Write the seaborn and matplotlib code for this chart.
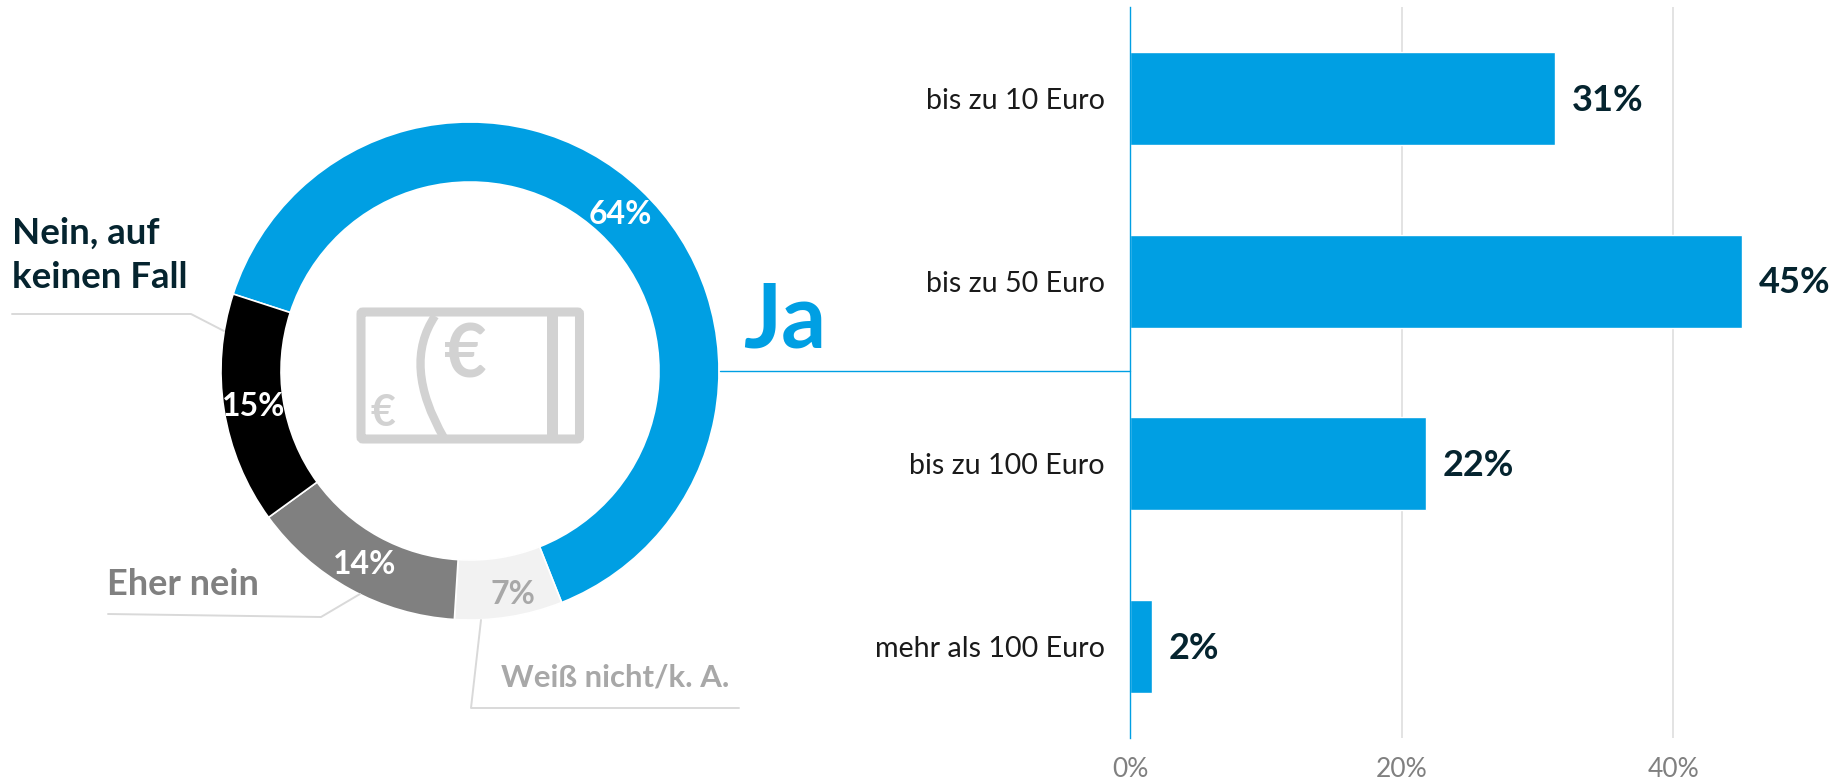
import matplotlib
matplotlib.use("Agg")
import matplotlib.pyplot as plt
from matplotlib.patches import PathPatch, Rectangle, FancyBboxPatch
from matplotlib.path import Path
import pandas as pd
import seaborn as sns

# donut data
answers = ["Ja", "Weiß nicht/k. A.", "Eher nein", "Nein, auf keinen Fall"]
answer_values = [64, 7, 14, 15]
answer_colors = ["#009FE3", "#F2F2F2", "#808080", "#000000"]

# bar data
amounts = ["bis zu 10 Euro", "bis zu 50 Euro", "bis zu 100 Euro", "mehr als 100 Euro"]
amount_values = [31.3, 45.1, 21.8, 1.6]
amount_labels = ["31%", "45%", "22%", "2%"]
x_ticks = [0, 20, 40]
x_tick_labels = ["0%", "20%", "40%"]

BLUE = "#009FE3"
DARK = "#05242F"
W, H = 1845, 781

sns.set_theme(style="white")
plt.rcParams["font.family"] = ["Lato", "DejaVu Sans"]

fig = plt.figure(figsize=(W / 100, H / 100), dpi=100, facecolor="white")


def px_axes(left, top, width, height):
    return fig.add_axes([left / W, 1 - (top + height) / H, width / W, height / H])


# -----------------------------
# Bars
# -----------------------------
ax = px_axes(1130, 7, 715, 731)
df = pd.DataFrame({"amount": amounts, "value": amount_values})
sns.barplot(data=df, x="value", y="amount", color=BLUE, saturation=1, width=0.51, ax=ax, zorder=3)
ax.set_xlim(0, 715 / 13.58)
ax.set_xlabel("")
ax.set_ylabel("")
ax.set_xticks(x_ticks, x_tick_labels)
ax.tick_params(axis="x", length=0, pad=14, labelsize=19, labelcolor="#808080")
ax.tick_params(axis="y", length=0, pad=18, labelsize=20.6, labelcolor="#1A1A1A")
ax.grid(axis="x", color="#E1E1E1", lw=1.3, zorder=0)
ax.set_axisbelow(True)
sns.despine(ax=ax, left=False, bottom=True)
ax.spines["left"].set_color(BLUE)
ax.spines["left"].set_linewidth(1)
ax.spines["left"].set_zorder(5)
bar_texts = ax.bar_label(ax.containers[0], labels=amount_labels, padding=12, fontsize=26,
                         fontweight="bold", color=DARK)
# nudge the value labels down a little
for t in bar_texts:
    t.xyann = (t.xyann[0], t.xyann[1] - 1.2)

# -----------------------------
# Donut
# -----------------------------
ax2 = px_axes(221, 122, 498, 498)
ax2.pie(answer_values, colors=answer_colors, startangle=162, counterclock=False, radius=1,
        wedgeprops=dict(width=0.241, edgecolor="white", linewidth=1.2))
ax2.set_xlim(-1, 1)
ax2.set_ylim(-1, 1)

# -----------------------------
# Overlay in pixels: labels, leaders, banknote
# -----------------------------
ov = fig.add_axes([0, 0, 1, 1], zorder=10)
ov.set_xlim(0, W)
ov.set_ylim(H, 0)
ov.axis("off")
ov.patch.set_alpha(0)

LEADER = "#D9D9D9"
ov.plot([12, 191, 224], [314, 314, 331], color=LEADER, lw=1.4)
ov.plot([108, 321, 360], [614, 617, 594], color=LEADER, lw=1.4)
ov.plot([481, 471, 739], [620, 708, 708], color=LEADER, lw=1.4)
ov.plot([720, 1130], [371, 371], color=BLUE, lw=1)

ov.text(743, 348, "Ja", color=BLUE, fontsize=64, fontweight="bold", va="baseline")
ov.text(12, 244, "Nein, auf", color=DARK, fontsize=26.4, fontweight="bold", va="baseline")
ov.text(12, 288, "keinen Fall", color=DARK, fontsize=26.4, fontweight="bold", va="baseline")
ov.text(107, 595, "Eher nein", color="#808080", fontsize=26, fontweight="bold", va="baseline")
ov.text(501, 687, "Weiß nicht/k. A.", color="#A8A8A8", fontsize=22.4, fontweight="bold", va="baseline")

for x, y, s, c in [(620, 214, "64%", "white"), (254, 407, "15%", "white"),
                   (365, 564, "14%", "white"), (513, 594, "7%", "#A8A8A8")]:
    ov.text(x, y, s, color=c, fontsize=23, fontweight="bold", ha="center", va="center")

# banknote icon
NOTE = "#D2D2D2"
ov.add_patch(FancyBboxPatch((361, 312), 218.5, 127, boxstyle="round,pad=0,rounding_size=2",
                            fc="none", ec=NOTE, lw=6.5))
ov.add_patch(Rectangle((546.5, 312), 11.5, 127, fc=NOTE, ec="none"))
ov.add_patch(PathPatch(Path([(435, 316), (402, 365), (444, 438)],
                            [Path.MOVETO, Path.CURVE3, Path.CURVE3]),
                       fc="none", ec=NOTE, lw=6))
ov.text(465, 356, "€", color=NOTE, fontsize=53, fontweight="bold", ha="center", va="center")
ov.text(383, 413, "€", color=NOTE, fontsize=31, fontweight="bold", ha="center", va="center")

fig.savefig("out.png", dpi=100)
